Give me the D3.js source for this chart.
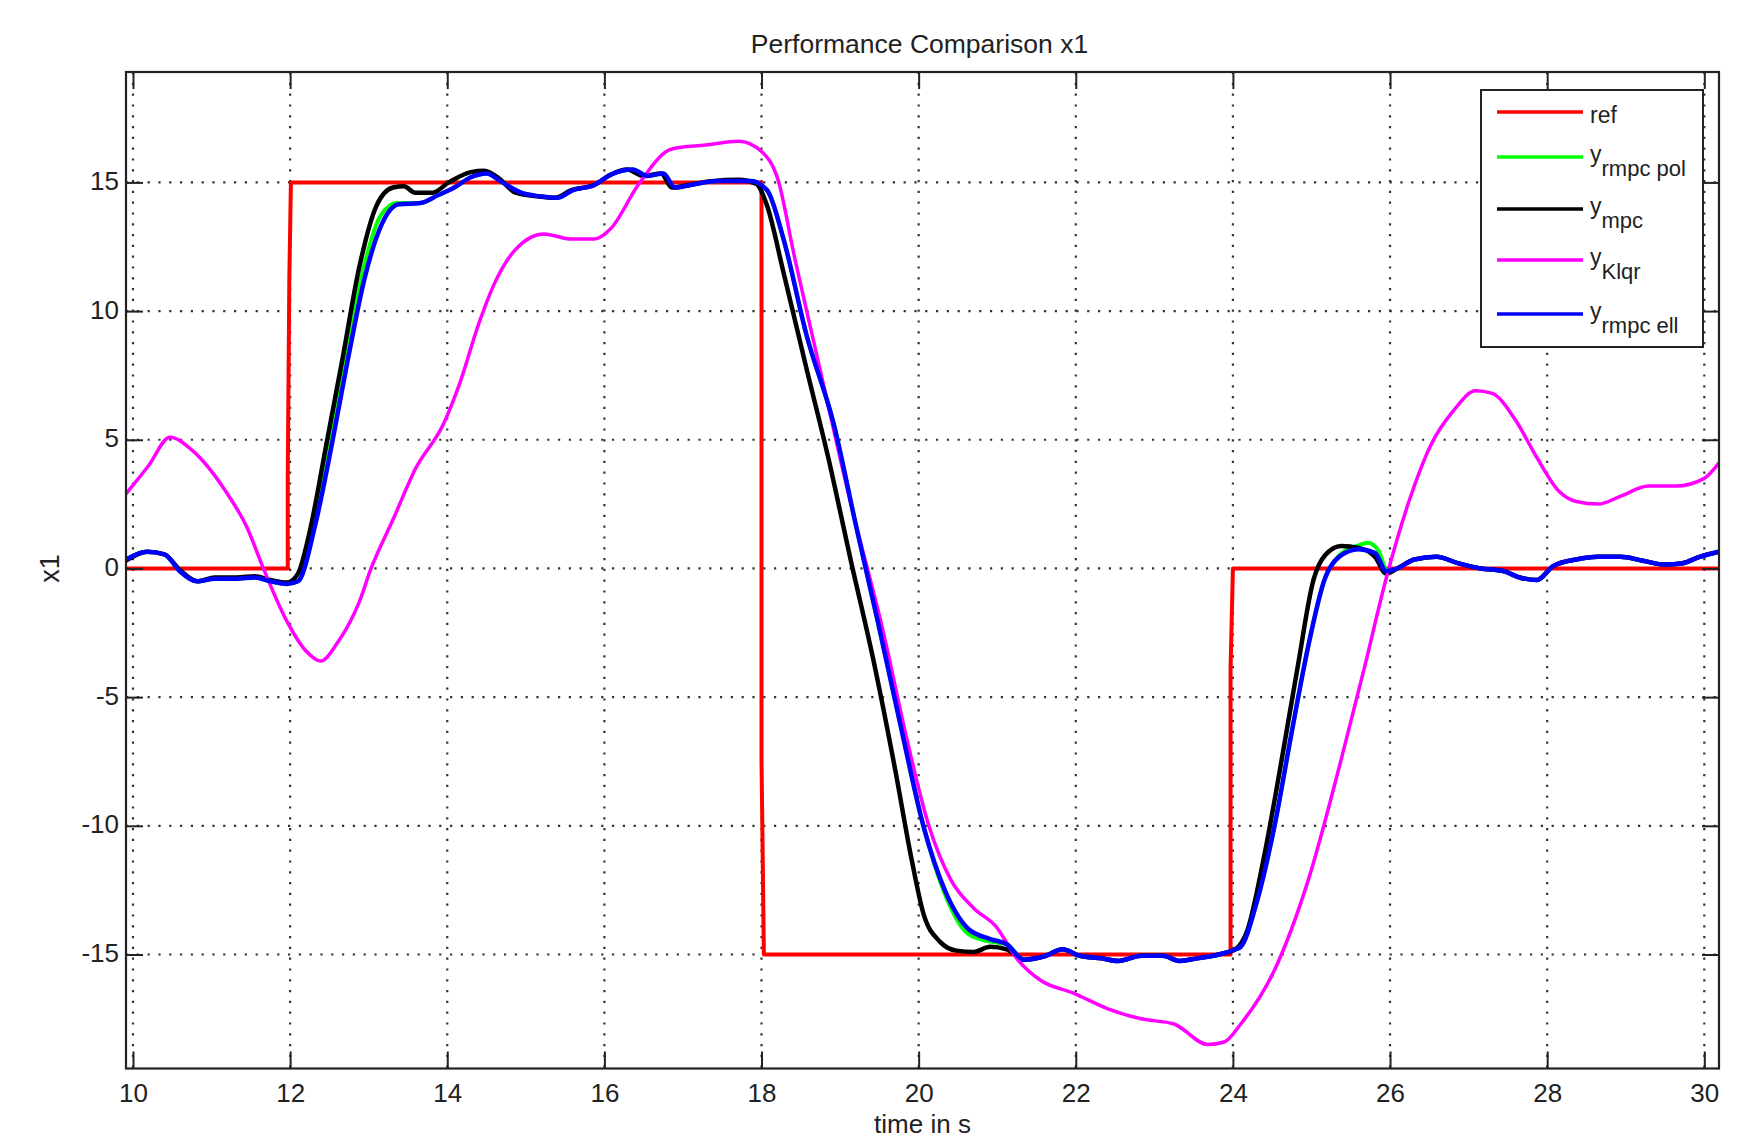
<!DOCTYPE html>
<html>
<head>
<meta charset="utf-8">
<script src="https://cdn.jsdelivr.net/npm/d3@7"></script>
<style>
  body { margin: 0; background: #fff; }
  text { font-family: "Liberation Sans", Arial, sans-serif; fill: #222; }
</style>
</head>
<body>
<div id="chart"></div>
<script>
// tick values
var xTicks = [10, 12, 14, 16, 18, 20, 22, 24, 26, 28, 30];
var yTicks = [-15, -10, -5, 0, 5, 10, 15];

// reference signal (step)
var refT = [9.911, 11.97, 11.97, 11.99, 12.01, 18.0, 18.0, 18.03, 23.97, 23.97, 24.0, 30.187];
var refV = [0, 0, 3.6, 11.3, 15, 15, -7.4, -15, -15, -3.9, 0, 0];

// y_mpc (black)
var mpcT = [9.911, 10.18, 10.4, 10.61, 10.82, 11.04, 11.32, 11.55, 11.75, 11.96, 12.1, 12.24, 12.46, 12.67, 12.88, 13.1, 13.31, 13.45, 13.59, 13.81, 14.02, 14.3, 14.47, 14.66, 14.87, 15.16, 15.37, 15.58, 15.87, 16.08, 16.29, 16.5, 16.72, 16.86, 17.07, 17.36, 17.71, 17.93, 18.07, 18.28, 18.57, 18.85, 19.13, 19.42, 19.7, 19.91, 20.06, 20.27, 20.48, 20.7, 20.91, 21.12, 21.34, 21.62, 21.83, 22.05, 22.33, 22.54, 22.83, 23.11, 23.32, 23.54, 23.82, 24.03, 24.18, 24.39, 24.6, 24.82, 25.03, 25.17, 25.38, 25.6, 25.81, 25.95, 26.09, 26.31, 26.59, 26.87, 27.15, 27.44, 27.65, 27.87, 28.08, 28.37, 28.65, 28.93, 29.22, 29.5, 29.72, 29.94, 30.187];
var mpcV = [0.3, 0.65, 0.55, -0.1, -0.5, -0.35, -0.35, -0.3, -0.45, -0.55, -0.2, 1.3, 4.8, 8.2, 11.7, 14.1, 14.8, 14.85, 14.6, 14.6, 15.0, 15.4, 15.45, 15.15, 14.6, 14.45, 14.4, 14.7, 14.9, 15.3, 15.5, 15.25, 15.35, 14.8, 14.9, 15.05, 15.1, 14.95, 14.1, 11.5, 7.8, 4.3, 0.4, -3.5, -7.8, -11.3, -13.4, -14.5, -14.85, -14.9, -14.7, -14.8, -15.2, -15.05, -14.8, -15.05, -15.15, -15.25, -15.05, -15.05, -15.25, -15.15, -15.0, -14.8, -14.1, -11.3, -7.8, -3.9, -0.4, 0.5, 0.87, 0.8, 0.45, -0.2, 0, 0.35, 0.45, 0.2, 0, -0.1, -0.35, -0.45, 0.1, 0.35, 0.45, 0.45, 0.3, 0.15, 0.2, 0.45, 0.65];

// y_rmpc ell (blue)
var ellT = [9.911, 10.18, 10.4, 10.61, 10.82, 11.04, 11.32, 11.55, 11.75, 11.96, 12.1, 12.32, 12.53, 12.74, 12.95, 13.17, 13.38, 13.66, 13.88, 14.09, 14.3, 14.5, 14.7, 14.94, 15.2, 15.4, 15.6, 15.87, 16.08, 16.36, 16.55, 16.75, 16.9, 17.1, 17.45, 17.86, 18.07, 18.28, 18.57, 18.92, 19.2, 19.49, 19.77, 20.06, 20.34, 20.63, 20.91, 21.12, 21.34, 21.62, 21.83, 22.05, 22.33, 22.54, 22.83, 23.11, 23.32, 23.54, 23.82, 24.03, 24.1, 24.3, 24.53, 24.74, 24.96, 25.17, 25.35, 25.6, 25.81, 25.95, 26.09, 26.31, 26.59, 26.87, 27.15, 27.44, 27.65, 27.87, 28.08, 28.37, 28.65, 28.93, 29.22, 29.5, 29.72, 29.94, 30.187];
var ellV = [0.35, 0.65, 0.55, -0.15, -0.5, -0.4, -0.4, -0.35, -0.5, -0.6, -0.5, 1.7, 4.8, 8.2, 11.3, 13.4, 14.15, 14.2, 14.5, 14.8, 15.2, 15.35, 15.0, 14.6, 14.45, 14.4, 14.7, 14.9, 15.3, 15.5, 15.25, 15.35, 14.8, 14.9, 15.05, 15.05, 14.7, 12.8, 9.1, 5.6, 1.7, -2.2, -6.1, -10, -12.55, -14.0, -14.4, -14.6, -15.2, -15.05, -14.8, -15.05, -15.15, -15.25, -15.05, -15.05, -15.25, -15.15, -15.0, -14.8, -14.7, -13.0, -10, -6.5, -3.0, -0.4, 0.45, 0.75, 0.6, -0.1, 0, 0.35, 0.45, 0.2, 0, -0.1, -0.35, -0.45, 0.1, 0.35, 0.45, 0.45, 0.3, 0.15, 0.2, 0.45, 0.65];

// y_rmpc pol (green)
var polT = [9.911, 10.18, 10.4, 10.61, 10.82, 11.04, 11.32, 11.55, 11.75, 11.96, 12.1, 12.3, 12.5, 12.72, 12.93, 13.15, 13.36, 13.66, 13.88, 14.09, 14.3, 14.5, 14.7, 14.94, 15.2, 15.4, 15.6, 15.87, 16.08, 16.36, 16.55, 16.75, 16.9, 17.1, 17.45, 17.86, 18.07, 18.28, 18.57, 18.92, 19.2, 19.49, 19.77, 20.06, 20.34, 20.63, 20.91, 21.12, 21.34, 21.62, 21.83, 22.05, 22.33, 22.54, 22.83, 23.11, 23.32, 23.54, 23.82, 24.03, 24.1, 24.3, 24.53, 24.74, 24.96, 25.17, 25.35, 25.6, 25.72, 25.85, 25.97, 26.09, 26.31, 26.59, 26.87, 27.15, 27.44, 27.65, 27.87, 28.08, 28.37, 28.65, 28.93, 29.22, 29.5, 29.72, 29.94, 30.187];
var polV = [0.35, 0.65, 0.55, -0.15, -0.5, -0.4, -0.4, -0.35, -0.5, -0.6, -0.5, 1.7, 4.9, 8.4, 11.6, 13.7, 14.2, 14.2, 14.5, 14.8, 15.2, 15.35, 15.0, 14.6, 14.45, 14.4, 14.7, 14.9, 15.3, 15.5, 15.25, 15.35, 14.8, 14.9, 15.05, 15.05, 14.7, 12.8, 9.1, 5.6, 1.7, -2.2, -6.1, -10, -12.7, -14.2, -14.5, -14.6, -15.2, -15.05, -14.8, -15.05, -15.15, -15.25, -15.05, -15.05, -15.25, -15.15, -15.0, -14.8, -14.7, -13.0, -10, -6.5, -3.0, -0.4, 0.5, 0.9, 1.0, 0.7, -0.1, 0, 0.35, 0.45, 0.2, 0, -0.1, -0.35, -0.45, 0.1, 0.35, 0.45, 0.45, 0.3, 0.15, 0.2, 0.45, 0.65];

// y_Klqr (magenta)
var lqrT = [9.911, 10.2, 10.47, 10.75, 11.18, 11.45, 11.66, 11.95, 12.2, 12.39, 12.6, 12.88, 13.03, 13.31, 13.6, 13.95, 14.16, 14.4, 14.59, 14.87, 15.23, 15.58, 15.87, 16.08, 16.43, 16.86, 17.29, 17.71, 18.0, 18.21, 18.42, 18.71, 19.13, 19.56, 19.84, 20.13, 20.41, 20.7, 20.98, 21.26, 21.55, 21.97, 22.4, 22.83, 23.25, 23.68, 23.89, 24.1, 24.53, 24.96, 25.38, 25.67, 25.95, 26.24, 26.52, 26.8, 27.09, 27.3, 27.59, 27.87, 28.15, 28.37, 28.65, 28.93, 29.29, 29.64, 30.0, 30.187];
var lqrV = [2.9, 4.0, 5.1, 4.6, 3.0, 1.6, 0.0, -2.0, -3.2, -3.6, -2.9, -1.3, 0.0, 1.9, 3.9, 5.6, 7.2, 9.5, 11.0, 12.4, 13.0, 12.8, 12.8, 13.2, 14.9, 16.3, 16.45, 16.6, 16.2, 15.1, 12.1, 8.2, 2.6, -2.6, -6.5, -10, -12.1, -13.2, -13.9, -15.2, -16.0, -16.5, -17.1, -17.5, -17.7, -18.5, -18.4, -17.7, -15.6, -12.1, -7.4, -3.9, -0.4, 2.6, 4.8, 6.1, 6.9, 6.8, 5.8, 4.3, 3.0, 2.6, 2.5, 2.8, 3.2, 3.2, 3.5, 4.1];

var series = [
  {name: "ref", sub: null, t: refT, v: refV, color: "#ff0000", width: 4, curve: d3.curveLinear},
  {name: "y", sub: "rmpc pol", t: polT, v: polV, color: "#00ff00", width: 4, curve: d3.curveMonotoneX},
  {name: "y", sub: "mpc", t: mpcT, v: mpcV, color: "#000000", width: 4.5, curve: d3.curveMonotoneX},
  {name: "y", sub: "Klqr", t: lqrT, v: lqrV, color: "#ff00ff", width: 3.5, curve: d3.curveMonotoneX},
  {name: "y", sub: "rmpc ell", t: ellT, v: ellV, color: "#0000ff", width: 4.5, curve: d3.curveMonotoneX}
];

var width = 1749, height = 1141;
var margin = {left: 126, right: 1749 - 1719, top: 72, bottom: 1141 - 1068.5};
var plotW = width - margin.left - margin.right;
var plotH = height - margin.top - margin.bottom;

var svg = d3.select("#chart").append("svg")
    .attr("width", width)
    .attr("height", height);

svg.append("rect").attr("width", width).attr("height", height).attr("fill", "#fff");

var g = svg.append("g")
    .attr("transform", "translate(" + margin.left + "," + margin.top + ")");

var xScale = d3.scaleLinear().domain([9.911, 30.187]).range([0, plotW]);
var yScale = d3.scaleLinear().domain([-19.43, 19.29]).range([plotH, 0]);

// dotted grid
g.append("g")
    .attr("class", "grid")
    .selectAll("line.gx")
    .data(xTicks)
   .enter()
    .append("line")
    .attr("x1", function(d) { return xScale(d); })
    .attr("x2", function(d) { return xScale(d); })
    .attr("y1", 0)
    .attr("y2", plotH);

g.select(".grid")
    .selectAll("line.gy")
    .data(yTicks)
   .enter()
    .append("line")
    .attr("x1", 0)
    .attr("x2", plotW)
    .attr("y1", function(d) { return yScale(d); })
    .attr("y2", function(d) { return yScale(d); });

g.selectAll(".grid line")
    .style("stroke", "#333")
    .style("stroke-width", 2.2)
    .style("stroke-dasharray", "2.2,8.6");

// data lines
g.append("clipPath").attr("id", "clip")
  .append("rect").attr("width", plotW).attr("height", plotH);

series.forEach(function(s) {
  var pts = s.t.map(function(t, i) { return [t, s.v[i]]; });
  var line = d3.line()
      .x(function(d) { return xScale(d[0]); })
      .y(function(d) { return yScale(d[1]); })
      .curve(s.curve);
  g.append("path")
      .attr("clip-path", "url(#clip)")
      .attr("d", line(pts))
      .attr("fill", "none")
      .attr("stroke", s.color)
      .attr("stroke-width", s.width)
      .attr("stroke-linejoin", "round");
});

// axes, ticks pointing inward on all four sides (plain hyphen for negatives)
var tickLen = 17;
var plain = function(d) { return String(d); };
var xAxis = d3.axisBottom(xScale).tickValues(xTicks).tickSize(-tickLen).tickFormat(plain);
var xAxisTop = d3.axisTop(xScale).tickValues(xTicks).tickSize(-tickLen).tickFormat("");
var yAxis = d3.axisLeft(yScale).tickValues(yTicks).tickSize(-tickLen).tickFormat(plain);
var yAxisRight = d3.axisRight(yScale).tickValues(yTicks).tickSize(-tickLen).tickFormat("");

g.append("g").attr("class", "x axis").attr("transform", "translate(0," + plotH + ")").call(xAxis);
g.append("g").attr("class", "x axis").call(xAxisTop);
g.append("g").attr("class", "y axis").call(yAxis);
g.append("g").attr("class", "y axis").attr("transform", "translate(" + plotW + ",0)").call(yAxisRight);

g.selectAll(".axis .domain").remove();
g.selectAll(".axis .tick line")
    .style("stroke", "#222")
    .style("stroke-width", 2);

g.selectAll(".x.axis text")
    .attr("dy", null)
    .attr("y", 1102 - 1068.5)
    .style("font-size", "26px")
    .style("fill", "#222");

g.selectAll(".y.axis text")
    .attr("dy", "7px")
    .attr("x", -7)
    .style("font-size", "26px")
    .style("fill", "#222");

// frame
g.append("rect")
    .attr("width", plotW)
    .attr("height", plotH)
    .attr("fill", "none")
    .attr("stroke", "#222")
    .attr("stroke-width", 2.2);

// title and labels
svg.append("text")
    .attr("x", margin.left + plotW / 2 - 3)
    .attr("y", 53)
    .attr("text-anchor", "middle")
    .style("font-size", "26.5px")
    .text("Performance Comparison x1");

svg.append("text")
    .attr("x", margin.left + plotW / 2)
    .attr("y", 1133)
    .attr("text-anchor", "middle")
    .style("font-size", "26px")
    .text("time in s");

svg.append("text")
    .attr("transform", "translate(59," + (yScale(0) + margin.top) + ") rotate(-90)")
    .attr("text-anchor", "middle")
    .style("font-size", "27px")
    .text("x1");

// legend
var legX = 1481, legY = 90, legW = 222, legH = 257;
var legRows = [112, 157, 209, 260, 314];
var legend = svg.append("g").attr("class", "legend");

legend.append("rect")
    .attr("x", legX)
    .attr("y", legY)
    .attr("width", legW)
    .attr("height", legH)
    .attr("fill", "#fff")
    .attr("stroke", "#222")
    .attr("stroke-width", 2);

legend.selectAll(".legLine")
    .data(series)
   .enter()
    .append("line")
    .attr("class", "legLine")
    .attr("x1", legX + 16)
    .attr("x2", legX + 102)
    .attr("y1", function(d, i) { return legRows[i]; })
    .attr("y2", function(d, i) { return legRows[i]; })
    .attr("stroke", function(d) { return d.color; })
    .attr("stroke-width", 3.5);

var legText = legend.selectAll(".legText")
    .data(series)
   .enter()
    .append("text")
    .attr("class", "legText")
    .attr("x", legX + 109)
    .attr("y", function(d, i) { return legRows[i] + (d.sub ? 5 : 11); })
    .style("font-size", "23px");

legText.append("tspan").text(function(d) { return d.name; });
legText.filter(function(d) { return d.sub; })
  .append("tspan")
    .attr("dy", 14)
    .style("font-size", "22px")
    .text(function(d) { return d.sub; });
</script>
</body>
</html>
